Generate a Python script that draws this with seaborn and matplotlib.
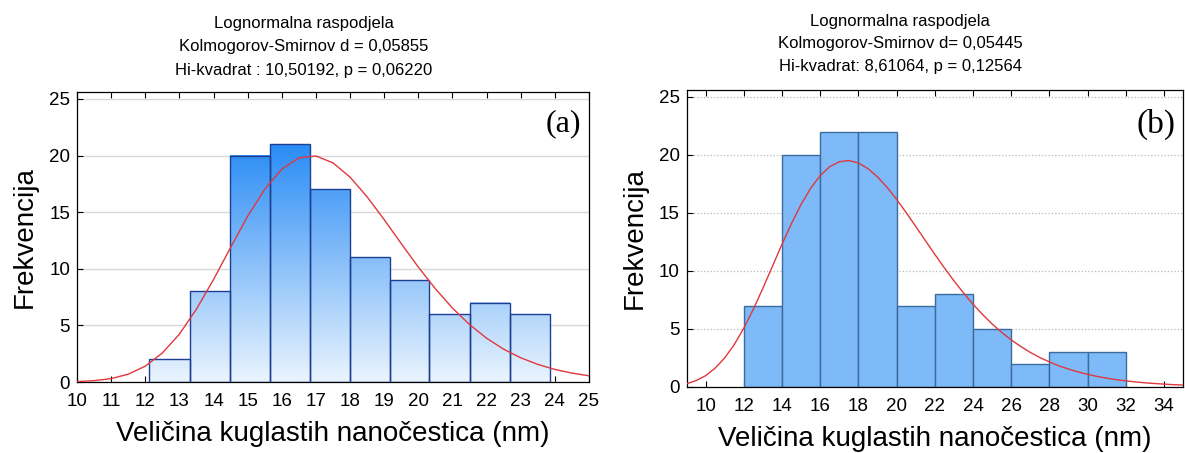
import numpy as np
import matplotlib
matplotlib.use("Agg")
import matplotlib.pyplot as plt
from matplotlib.colors import LinearSegmentedColormap
import seaborn as sns

# ---- data ----
edges_a = [12.10, 13.31, 14.48, 15.66, 16.83, 17.99, 19.16, 20.32, 21.52, 22.68, 23.86]
counts_a = [2, 8, 20, 21, 17, 11, 9, 6, 7, 6]
curve_a_x = np.arange(10, 25.01, 0.5)
curve_a_y = [0.04, 0.12, 0.30, 0.69, 1.40, 2.56, 4.23, 6.44, 9.05, 11.88, 14.64,
             17.02, 18.80, 19.79, 19.96, 19.35, 18.09, 16.35, 14.34, 12.22, 10.15,
             8.24, 6.53, 5.08, 3.87, 2.90, 2.14, 1.56, 1.11, 0.79, 0.55]

edges_b = [12, 14, 16, 18, 20, 22, 24, 26, 28, 30, 32]
counts_b = [7, 20, 22, 22, 7, 8, 5, 2, 3, 3]
curve_b_x = np.arange(9, 35.01, 0.5)
curve_b_y = [0.28, 0.55, 0.98, 1.63, 2.52, 3.67, 5.08, 6.72, 8.53, 10.42, 12.32,
             14.12, 15.75, 17.14, 18.23, 19.00, 19.42, 19.52, 19.31, 18.82, 18.11,
             17.21, 16.17, 15.03, 13.84, 12.63, 11.43, 10.27, 9.15, 8.11, 7.13,
             6.25, 5.43, 4.71, 4.06, 3.49, 2.98, 2.54, 2.16, 1.82, 1.54, 1.30,
             1.09, 0.91, 0.76, 0.63, 0.53, 0.44, 0.36, 0.30, 0.25, 0.20, 0.17]

titles_a = ["Lognormalna raspodjela",
            "Kolmogorov-Smirnov d = 0,05855",
            "Hi-kvadrat : 10,50192, p = 0,06220"]
titles_b = ["Lognormalna raspodjela",
            "Kolmogorov-Smirnov d= 0,05445",
            "Hi-kvadrat: 8,61064, p = 0,12564"]
xticks_a = list(range(10, 26))
xticks_b = list(range(10, 35, 2))
yticks = [0, 5, 10, 15, 20, 25]
xlabel = "Veličina kuglastih nanočestica (nm)"
ylabel = "Frekvencija"

sns.set_style("white")
plt.rcParams["font.family"] = ["Liberation Sans", "DejaVu Sans"]
plt.rcParams["text.color"] = "black"
plt.rcParams["axes.labelcolor"] = "black"

fig = plt.figure(figsize=(11.85, 4.53), dpi=100)
ax_a = fig.add_axes([0.0650, 0.1567, 0.432, 0.640])
ax_b = fig.add_axes([0.5794, 0.1457, 0.419, 0.6556])

red = "#e0383e"


def style_axes(ax, xlim, xticks, grid_style):
    ax.set_xlim(*xlim)
    ax.set_ylim(0, 25.6)
    ax.set_xticks(xticks)
    ax.set_yticks(yticks)
    ax.tick_params(axis="both", direction="in", length=4, width=0.8,
                   labelsize=13.5, colors="black")
    ax.tick_params(axis="x", top=True, bottom=True, pad=8)
    ax.tick_params(axis="y", left=True, right=False, pad=5)
    for sp in ax.spines.values():
        sp.set_visible(True)
        sp.set_color("black")
        sp.set_linewidth(0.9)
    ax.yaxis.grid(True, **grid_style)
    ax.set_axisbelow(True)
    ax.set_xlabel(xlabel, fontsize=20, labelpad=8)
    ax.set_ylabel(ylabel, fontsize=20, labelpad=8)


# ---- panel (a): gradient bars ----
centers_a = [(edges_a[i] + edges_a[i + 1]) / 2 for i in range(len(counts_a))]
sns.histplot(x=centers_a, weights=counts_a, bins=edges_a, ax=ax_a,
             color="#3090f5", edgecolor="#1c3f94", linewidth=1.0, alpha=1)
grad = LinearSegmentedColormap.from_list("grad", ["#eaf4fe", "#2a8cf5"])
top = max(counts_a)
for p in ax_a.patches:
    x0, w, h = p.get_x(), p.get_width(), p.get_height()
    p.set_facecolor("none")
    p.set_zorder(3)
    ax_a.imshow(np.linspace(0, h, 200).reshape(-1, 1), extent=(x0, x0 + w, 0, h),
                origin="lower", cmap=grad, vmin=0, vmax=top, aspect="auto", zorder=2)
sns.lineplot(x=curve_a_x, y=curve_a_y, ax=ax_a, color=red, linewidth=1.0, zorder=4)
style_axes(ax_a, (10, 25), xticks_a, dict(color="#d9d9d9", linestyle="-", linewidth=1.0))
ax_a.text(0.985, 0.89, "(a)", transform=ax_a.transAxes, ha="right", va="center",
          fontsize=23, family=["Liberation Serif", "DejaVu Serif"])

# ---- panel (b): flat bars ----
centers_b = [(edges_b[i] + edges_b[i + 1]) / 2 for i in range(len(counts_b))]
sns.histplot(x=centers_b, weights=counts_b, bins=edges_b, ax=ax_b,
             color="#7dbaf7", edgecolor="#3d6b9e", linewidth=1.0, alpha=1)
sns.lineplot(x=curve_b_x, y=curve_b_y, ax=ax_b, color=red, linewidth=1.0, zorder=4)
style_axes(ax_b, (9, 35), xticks_b, dict(color="#b8b8b8", linestyle=":", linewidth=0.9))
ax_b.text(0.985, 0.885, "(b)", transform=ax_b.transAxes, ha="right", va="center",
          fontsize=24, family=["Liberation Serif", "DejaVu Serif"])

# ---- titles ----
fig.text(0.2565, 0.965, "\n".join(titles_a), ha="center", va="top",
         fontsize=12, linespacing=1.7)
fig.text(0.7595, 0.97, "\n".join(titles_b), ha="center", va="top",
         fontsize=12, linespacing=1.65)

fig.savefig("out.png", dpi=100)
